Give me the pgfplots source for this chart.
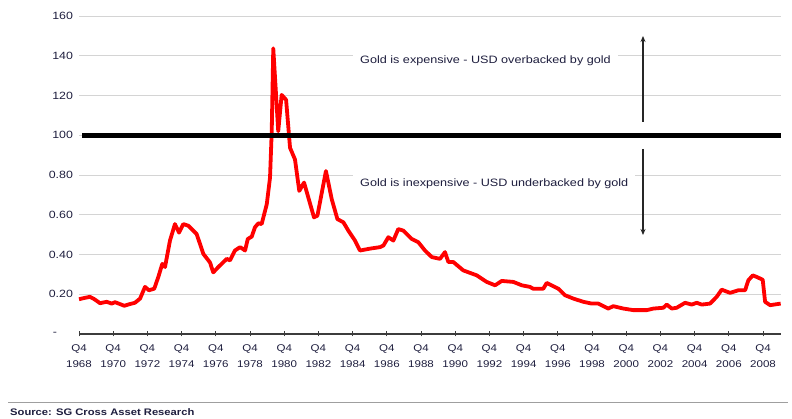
\documentclass[border=0pt]{standalone}
\usepackage{pgfplots}
\pgfplotsset{compat=1.18}
\usepackage{pgfplotstable}
\usepackage{fontspec}
\setmainfont{Liberation Sans}[FakeStretch=1.18]
\usetikzlibrary{arrows.meta}
\definecolor{txt}{RGB}{30,30,62}
\definecolor{gridc}{RGB}{212,212,212}
\definecolor{axc}{RGB}{60,60,60}

\pgfplotstableread{
year value
1968.75 0.175
1969.10 0.182
1969.39 0.187
1969.65 0.175
1969.98 0.155
1970.37 0.162
1970.66 0.153
1970.86 0.160
1971.10 0.152
1971.40 0.142
1971.70 0.150
1972.02 0.157
1972.32 0.178
1972.61 0.237
1972.84 0.220
1973.15 0.228
1973.40 0.290
1973.62 0.353
1973.78 0.337
1974.07 0.470
1974.36 0.553
1974.60 0.510
1974.85 0.553
1975.14 0.545
1975.63 0.503
1976.02 0.403
1976.41 0.360
1976.60 0.310
1976.90 0.337
1977.39 0.378
1977.58 0.370
1977.87 0.420
1978.17 0.437
1978.46 0.420
1978.62 0.478
1978.85 0.490
1979.04 0.537
1979.24 0.557
1979.43 0.553
1979.73 0.653
1979.92 0.787
1980.02 1.020
1980.11 1.437
1980.40 1.020
1980.60 1.203
1980.86 1.178
1981.09 0.937
1981.38 0.878
1981.63 0.720
1981.91 0.762
1982.49 0.587
1982.69 0.595
1983.19 0.820
1983.53 0.678
1983.86 0.578
1984.21 0.562
1984.50 0.520
1984.89 0.470
1985.18 0.420
1985.80 0.430
1986.35 0.437
1986.55 0.445
1986.84 0.487
1987.13 0.470
1987.42 0.528
1987.72 0.520
1988.21 0.478
1988.59 0.462
1988.98 0.420
1989.38 0.387
1989.86 0.378
1990.15 0.412
1990.35 0.362
1990.64 0.362
1991.22 0.320
1992.01 0.295
1992.59 0.262
1993.08 0.245
1993.47 0.267
1994.15 0.262
1994.64 0.245
1995.12 0.237
1995.30 0.228
1995.90 0.228
1996.10 0.257
1996.78 0.228
1997.17 0.195
1997.66 0.178
1998.24 0.162
1998.73 0.153
1999.12 0.153
1999.70 0.128
1999.99 0.140
2000.58 0.128
2001.17 0.120
2001.95 0.120
2002.34 0.128
2002.92 0.132
2003.12 0.148
2003.41 0.128
2003.70 0.132
2004.19 0.157
2004.58 0.148
2004.87 0.157
2005.17 0.148
2005.65 0.153
2006.04 0.187
2006.33 0.223
2006.82 0.207
2007.31 0.220
2007.70 0.220
2007.89 0.270
2008.15 0.295
2008.38 0.287
2008.73 0.273
2008.87 0.162
2009.16 0.145
2009.55 0.150
2009.78 0.153
}\goldratio

\begin{document}
\begin{tikzpicture}
\useasboundingbox (0,0) rectangle (792pt,419pt);
\begin{axis}[
  at={(79pt,85pt)}, anchor=south west,
  scale only axis, width=702pt, height=318pt,
  xmin=1968.75, xmax=2009.8, ymin=0, ymax=1.6,
  axis x line=bottom, axis y line=left,
  axis line style={-},
  y axis line style={draw=none},
  x axis line style={draw=axc, line width=1.2pt},
  xtick={1968.75,1970.75,1972.75,1974.75,1976.75,1978.75,1980.75,1982.75,1984.75,1986.75,1988.75,1990.75,1992.75,1994.75,1996.75,1998.75,2000.75,2002.75,2004.75,2006.75,2008.75},
  xticklabels={{Q4\\1968},{Q4\\1970},{Q4\\1972},{Q4\\1974},{Q4\\1976},{Q4\\1978},{Q4\\1980},{Q4\\1982},{Q4\\1984},{Q4\\1986},{Q4\\1988},{Q4\\1990},{Q4\\1992},{Q4\\1994},{Q4\\1996},{Q4\\1998},{Q4\\2000},{Q4\\2002},{Q4\\2004},{Q4\\2006},{Q4\\2008}},
  xticklabel style={align=center, font=\fontsize{9.8}{16}\selectfont, text=txt, yshift=-5pt},
  xtick align=center,
  major tick length=5pt,
  xtick style={draw=axc, line width=1pt},
  ytick={0,0.2,0.4,0.6,0.8,1,1.2,1.4,1.6},
  yticklabels={-\hspace*{16pt},0.20,0.40,0.60,0.80,100,120,140,160},
  yticklabel style={font=\fontsize{10.5}{12}\selectfont, text=txt},
  ytick style={draw=none},
  ymajorgrids,
  grid style={gridc, line width=0.9pt},
  clip=false,
]
\addplot[red, line width=3.8pt, line join=round] table[x=year, y=value] {\goldratio};
\addplot[black, line width=5pt] coordinates {(1968.93,1) (2009.8,1)};
\end{axis}
\node[fill=white, anchor=west, inner xsep=7pt, inner ysep=3pt, text=txt, font=\fontsize{10.7}{12}\selectfont] at (353pt,358.5pt) {Gold is expensive - USD overbacked by gold};
\node[fill=white, anchor=west, inner xsep=7pt, inner ysep=3pt, text=txt, font=\fontsize{10.7}{12}\selectfont] at (353pt,235.7pt) {Gold is inexpensive - USD underbacked by gold};
\draw[-{Stealth[length=6pt,width=5pt]}, line width=1.1pt, black!85] (643pt,297pt) -- (643pt,383pt);
\draw[-{Stealth[length=6pt,width=5pt]}, line width=1.1pt, black!85] (643pt,270pt) -- (643pt,184pt);
\draw[gray!75, line width=0.8pt] (8pt,17pt) -- (788pt,17pt);
\node[anchor=west, inner sep=0pt, text=txt, font=\bfseries\fontsize{9.5}{11}\selectfont] at (10pt,7pt) {Source: SG Cross Asset Research};
\end{tikzpicture}
\end{document}
